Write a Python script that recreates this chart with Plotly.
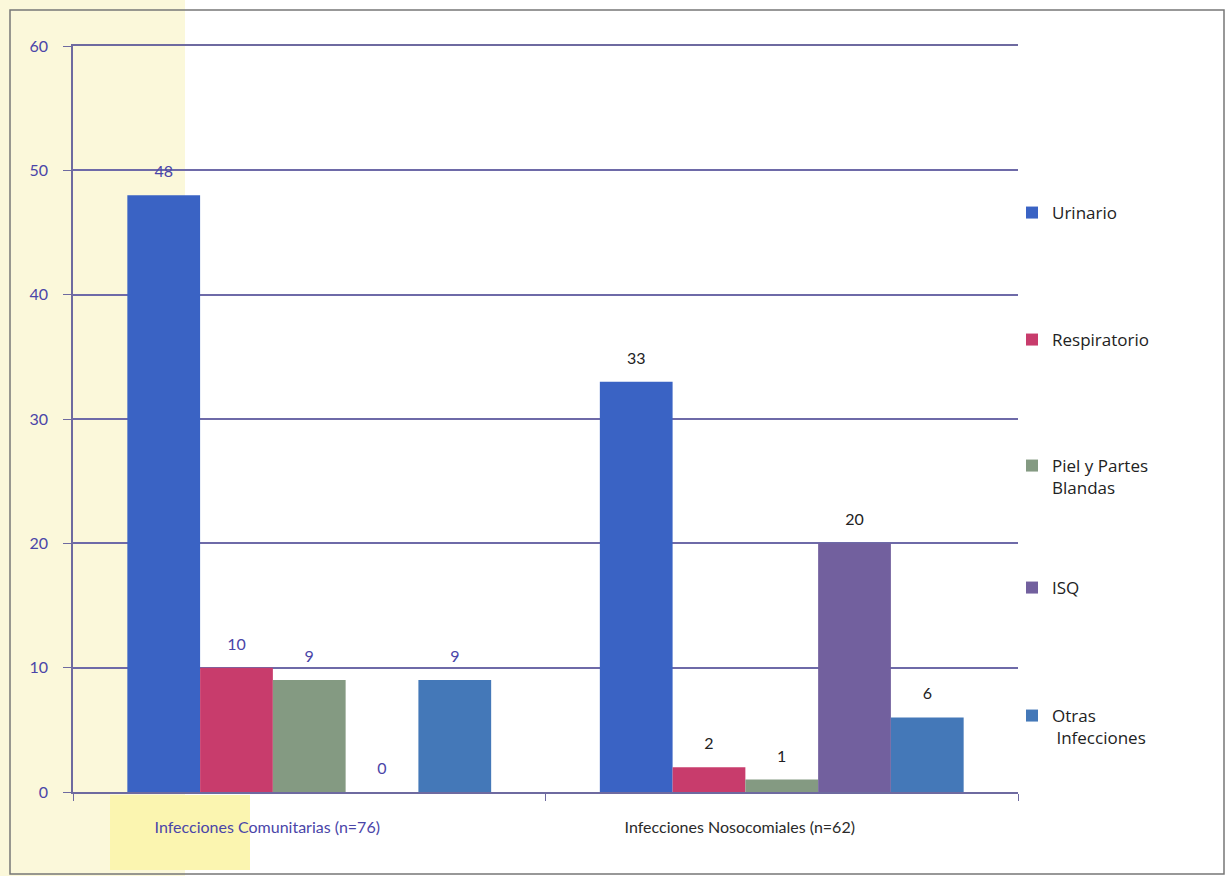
import plotly.graph_objects as go

categories = ["Infecciones Comunitarias (n=76)", "Infecciones Nosocomiales (n=62)"]
series_names = ["Urinario", "Respiratorio", "Piel y Partes<br>Blandas", "ISQ", "Otras<br> Infecciones"]
urinario = [48, 33]
respiratorio = [10, 2]
piel = [9, 1]
isq = [0, 20]
otras = [9, 6]
values = [urinario, respiratorio, piel, isq, otras]
colors = ["#3A63C4", "#C83C6C", "#849A82", "#72609E", "#4478B8"]
label_colors = ["#4A45A8", "#222222"]
yticks = [0, 10, 20, 30, 40, 50, 60]

W, H = 1228, 876
L, R, T, B = 73, 210, 46, 84
pw, ph = W - L - R, H - T - B

def px_x(p):
    return (p - L) / pw

def px_y(p):
    return (H - B - p) / ph

legend_tops = [195, 322, 448, 570, 698]
legend_keys = ["legend", "legend2", "legend3", "legend4", "legend5"]

fig = go.Figure()
for i, (name, vals) in enumerate(zip(series_names, values)):
    fig.add_trace(go.Bar(
        x=categories, y=vals, name=name, legend=legend_keys[i],
        marker=dict(color=colors[i], line=dict(width=0)),
        text=[str(v) for v in vals],
        texttemplate="<span style='font-size:16px'>%{text}</span><br>&nbsp;",
        textposition="outside",
        textfont=dict(size=10, color=label_colors, family="Lato"),
        cliponaxis=False,
    ))

ticktext = [f'<span style="color:{c}">{t}</span>' for t, c in zip(categories, ["#4A45A8", "#2a2a2a"])]

legends = {}
for i, k in enumerate(legend_keys):
    legends[k] = dict(x=px_x(1012), y=px_y(legend_tops[i]), xanchor="left", yanchor="top",
                      font=dict(size=17, color="#222", family="Open Sans"),
                      valign="top", itemwidth=30, bgcolor="rgba(0,0,0,0)")

fig.update_layout(
    width=W, height=H,
    margin=dict(l=L, r=R, t=T, b=B),
    barmode="group", bargap=0.23, bargroupgap=0,
    paper_bgcolor="white", plot_bgcolor="rgba(0,0,0,0)",
    font=dict(family="Lato", size=16, color="#333"),
    showlegend=True,
    xaxis=dict(tickvals=categories, ticktext=ticktext, showline=True, linecolor="#6E6AA0",
               linewidth=1.5, mirror=True, ticks="outside", tickson="boundaries", ticklen=7,
               tickcolor="#6E6AA0", tickfont=dict(size=16), showgrid=False,
               ticklabelshift=-42, ticklabelstandoff=20),
    yaxis=dict(range=[0, 60], tickvals=yticks, showline=True, linecolor="#6E6AA0",
               linewidth=1.5, ticks="outside", ticklen=8, tickcolor="#6E6AA0",
               tickfont=dict(size=16, color="#4A45A8"), showgrid=True,
               gridcolor="#6E6AA8", gridwidth=1.5, zeroline=False, ticklabelstandoff=12),
    shapes=[
        dict(type="rect", xref="paper", yref="paper", x0=px_x(0), x1=px_x(185), y0=px_y(876), y1=px_y(0),
             fillcolor="#FBF8DA", line=dict(width=0), layer="below"),
        dict(type="rect", xref="paper", yref="paper", x0=px_x(110), x1=px_x(250), y0=px_y(870), y1=px_y(795),
             fillcolor="#FBF5B0", line=dict(width=0), layer="below"),
        dict(type="rect", xref="paper", yref="paper", x0=px_x(10), x1=px_x(1224), y0=px_y(874), y1=px_y(10),
             fillcolor="rgba(0,0,0,0)", line=dict(color="#777", width=1.5), layer="below"),
    ],
    **legends,
)

fig.write_html("out.html")
